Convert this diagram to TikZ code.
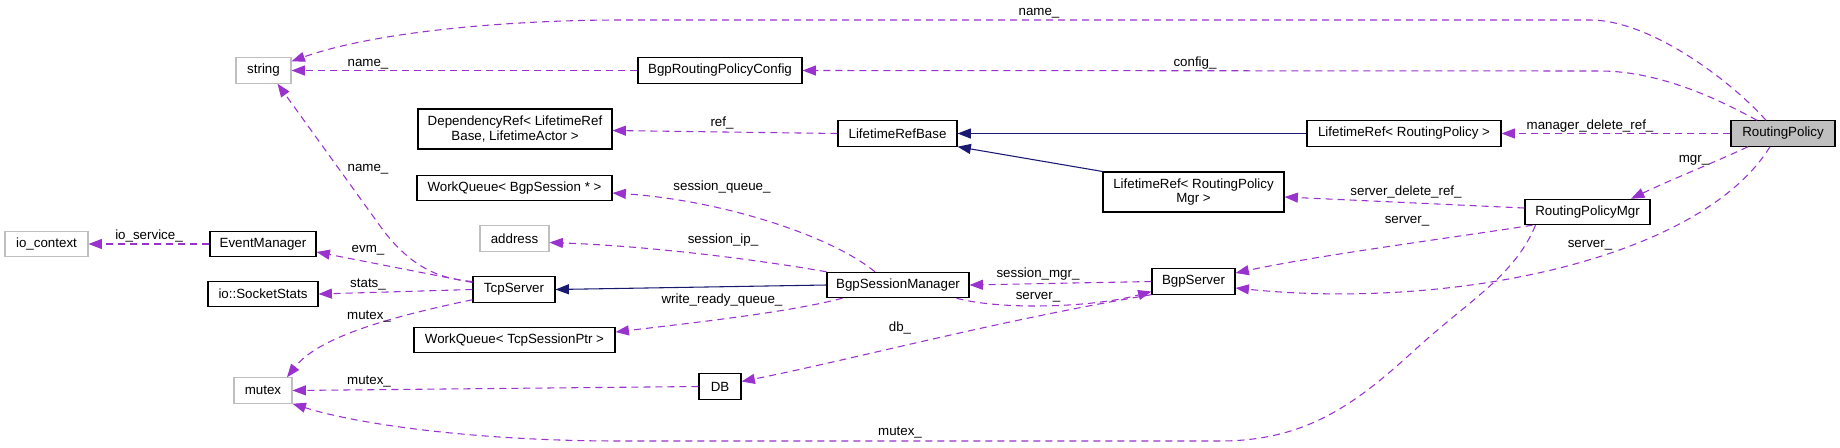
\documentclass[tikz,border=0pt]{standalone}
\usepackage{fontspec}
\setmainfont{Liberation Sans}
\usetikzlibrary{arrows.meta,calc}
\definecolor{memc}{HTML}{9A32CD}
\definecolor{inhc}{HTML}{191970}
\definecolor{extgray}{HTML}{BFBFBF}
\definecolor{selgray}{HTML}{BFBFBF}
\newcommand{\nodefont}{\fontsize{10}{11}\selectfont}
\tikzset{
  box/.style={draw=black, line width=0.8pt, rectangle, inner sep=0pt, align=center, font=\nodefont, minimum height=19pt},
  ext/.style={box, draw=extgray},
  bw/.style={minimum width=#1*0.75pt},
  two/.style={minimum height=30pt},
  mem/.style={draw=memc, line width=0.8pt, dash pattern=on 5.25pt off 3.75pt, -{Triangle[length=10pt,width=7.5pt,fill=memc]}},
  inh/.style={draw=inhc, line width=0.8pt, -{Triangle[length=10pt,width=7.5pt,fill=inhc]}},
  lbl/.style={font=\nodefont, inner sep=0pt, text height=7.5pt, text depth=2pt},
}
\begin{document}
\begin{tikzpicture}[x=0.75pt, y=-0.75pt]
\useasboundingbox (0,0) rectangle (1840,447);
% nodes
\node[ext, bw=55] (str) at (263.5,70.5) {string};
\node[box, bw=164] (bpc) at (720,70.5) {BgpRoutingPolicyConfig};
\node[box, bw=194, two] (dep) at (515,129) {DependencyRef< LifetimeRef\\Base, LifetimeActor >};
\node[box, bw=119] (lrb) at (897.5,133.5) {LifetimeRefBase};
\node[box, bw=194] (lrrp) at (1404,133.5) {LifetimeRef< RoutingPolicy >};
\node[box, bw=104, fill=selgray] (rp) at (1783,133.5) {RoutingPolicy};
\node[box, bw=195] (wqb) at (514.5,188) {WorkQueue< BgpSession * >};
\node[box, bw=181, two] (lrpm) at (1193.5,192) {LifetimeRef< RoutingPolicy\\Mgr >};
\node[box, bw=125] (rpm) at (1587.5,212) {RoutingPolicyMgr};
\node[ext, bw=69] (addr) at (514.5,238.5) {address};
\node[ext, bw=83] (ioc) at (46.5,244) {io\_context};
\node[box, bw=106] (em) at (263,244) {EventManager};
\node[box, bw=82] (tcp) at (514,289.5) {TcpServer};
\node[box, bw=110] (sock) at (263,294) {io::SocketStats};
\node[box, bw=142] (bsm) at (898,285) {BgpSessionManager};
\node[box, bw=83] (bs) at (1193.5,281.5) {BgpServer};
\node[box, bw=201] (wqt) at (514.5,340) {WorkQueue< TcpSessionPtr >};
\node[ext, bw=58] (mtx) at (263,390.5) {mutex};
\node[box, bw=42] (db) at (720,386.5) {DB};
% edges
\draw[mem] ($(rp.north)+(-17,0)$) .. controls (1730,80) and (1650,20) .. (1590,20) -- (620,20) .. controls (520,20) and (380,30) .. ($(str.north east)+(0,4)$);
\draw[mem] ($(rp.north)+(-26,0)$) .. controls (1720,100) and (1660,71) .. (1600,71) -- (bpc.east);
\draw[mem] (bpc.west) -- (str.east);
\draw[mem] (rp.west) -- (lrrp.east);
\draw[inh] (lrrp.west) -- (lrb.east);
\draw[inh] (lrpm.north west) -- (lrb.south east);
\draw[mem] (lrb.west) -- ($(dep.east)+(0,1.5)$);
\draw[mem] ($(rp.south)+(-35,0)$) .. controls (1720,160) and (1670,180) .. ($(rpm.north)+(43.5,0)$);
\draw[mem] ($(rpm.west)+(0,-4)$) -- ($(lrpm.east)+(0,5)$);
\draw[mem] ($(rpm.south west)+(8,0)$) .. controls (1450,238) and (1320,255) .. ($(bs.east)+(0,-8.5)$);
\draw[mem] ($(rp.south)+(-13,0)$) .. controls (1700,260) and (1450,310) .. ($(bs.east)+(0,6.5)$);
\draw[mem] ($(rpm.south west)+(11,0)$) .. controls (1515,275) and (1470,300) .. (1418,347) .. controls (1360,400) and (1310,441) .. (1220,441) -- (620,441) .. controls (480,441) and (360,425) .. (mtx.south east);
\draw[mem] (bs.west) -- (bsm.east);
\draw[mem] ($(bsm.south east)+(-13,0)$) .. controls (1000,310) and (1090,308) .. ($(bs.west)+(0,10)$);
\draw[mem] (bs.south west) .. controls (1000,320) and (850,360) .. ($(db.east)+(0,-5)$);
\draw[mem] (db.west) -- (mtx.east);
\draw[inh] (bsm.west) -- (tcp.east);
\draw[mem] ($(bsm.north)+(-23,0)$) .. controls (830,235) and (720,200) .. ($(wqb.east)+(0,5)$);
\draw[mem] (bsm.north west) .. controls (760,260) and (650,246) .. ($(addr.east)+(0,4)$);
\draw[mem] ($(bsm.south west)+(16,0)$) .. controls (790,312) and (700,322) .. ($(wqt.east)+(0,-8)$);
\draw[mem] ($(tcp.west)+(0,-7)$) -- ($(em.east)+(0,8)$);
\draw[mem] ($(tcp.west)+(0,-8)$) .. controls (445,279) and (415,272) .. (383,230) -- ($(str.south)+(14,0)$);
\draw[mem] (tcp.west) -- (sock.east);
\draw[mem] ($(tcp.south west)+(0,-3)$) .. controls (400,315) and (320,335) .. ($(mtx.north)+(24,0)$);
\draw[mem] (em.west) -- (ioc.east);
% labels
\node[lbl] (l1) at (1039,12) {name\_};
\node[lbl] (l2) at (1195,63) {config\_};
\node[lbl] (l3) at (368,63) {name\_};
\node[lbl] (l4) at (722,123) {ref\_};
\node[lbl] (l5) at (1590,126) {manager\_delete\_ref\_};
\node[lbl] (l6) at (1694,159) {mgr\_};
\node[lbl] (l7) at (368,168) {name\_};
\node[lbl] (l8) at (722,187) {session\_queue\_};
\node[lbl] (l9) at (1406,192) {server\_delete\_ref\_};
\node[lbl] (l10) at (1407,220) {server\_};
\node[lbl] (l11) at (149,236) {io\_service\_};
\node[lbl] (l12) at (723,240) {session\_ip\_};
\node[lbl] (l13) at (1590,244) {server\_};
\node[lbl] (l14) at (368,249) {evm\_};
\node[lbl] (l15) at (1038,274) {session\_mgr\_};
\node[lbl] (l16) at (368,284) {stats\_};
\node[lbl] (l17) at (1038,296) {server\_};
\node[lbl] (l18) at (722,300) {write\_ready\_queue\_};
\node[lbl] (l19) at (369,316) {mutex\_};
\node[lbl] (l20) at (900,328) {db\_};
\node[lbl] (l21) at (369,381) {mutex\_};
\node[lbl] (l22) at (900,432) {mutex\_};
\end{tikzpicture}
\end{document}
